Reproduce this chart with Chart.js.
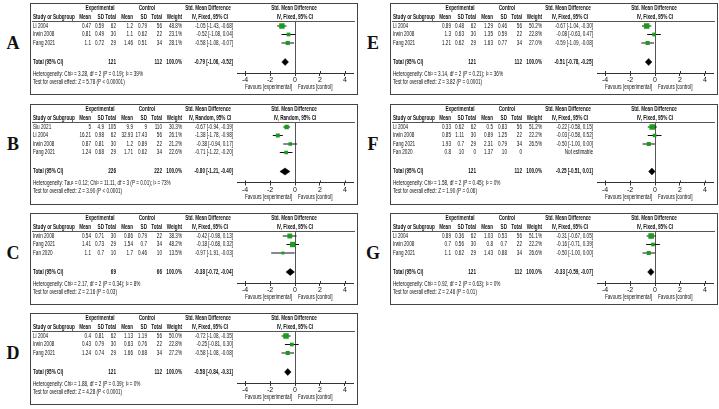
<!DOCTYPE html>
<html>
<head>
<meta charset="utf-8">
<script src="https://cdn.jsdelivr.net/npm/chart.js@4.4.1/dist/chart.umd.min.js"></script>
<style>
  body { margin: 0; background: #fff; width: 719px; height: 409px; position: relative; overflow: hidden; }
  canvas { position: absolute; }
  .lbl { position: absolute; font: bold 18px "Liberation Serif", "Times New Roman", serif; color: #111; transform: translate(-50%, -50%); }
</style>
</head>
<body>
<script>
// axis ticks for every panel
const xTicks = [-4, -2, 0, 2, 4];

// study, exp mean, exp SD, exp N, ctl mean, ctl SD, ctl N, weight %, SMD, lower, upper
const rowsA = [
  ["Li 2004", 0.47, 0.59, 62, 1.2, 0.79, 56, 48.8, -1.05, -1.43, -0.68],
  ["Irwin 2008", 0.81, 0.49, 30, 1.1, 0.62, 22, 23.1, -0.52, -1.08, 0.04],
  ["Fang 2021", 1.1, 0.72, 29, 1.46, 0.51, 34, 28.1, -0.58, -1.08, -0.07]
];
const rowsB = [
  ["Siu 2021", 5, 4.9, 105, 9.9, 9, 110, 30.3, -0.67, -0.94, -0.39],
  ["Li 2004", 16.21, 0.98, 62, 32.93, 17.43, 56, 26.1, -1.38, -1.78, -0.98],
  ["Irwin 2008", 0.87, 0.81, 30, 1.2, 0.89, 22, 21.2, -0.38, -0.94, 0.17],
  ["Fang 2021", 1.24, 0.68, 29, 1.71, 0.62, 34, 22.6, -0.71, -1.22, -0.20]
];
const rowsC = [
  ["Irwin 2008", 0.54, 0.71, 30, 0.86, 0.79, 22, 38.3, -0.42, -0.98, 0.13],
  ["Fang 2021", 1.41, 0.73, 29, 1.54, 0.7, 34, 48.2, -0.18, -0.68, 0.32],
  ["Fan 2020", 1.1, 0.7, 10, 1.7, 0.46, 10, 13.5, -0.97, -1.91, -0.03]
];
const rowsD = [
  ["Li 2004", 0.4, 0.81, 62, 1.13, 1.19, 56, 50.0, -0.72, -1.08, -0.35],
  ["Irwin 2008", 0.43, 0.79, 30, 0.63, 0.76, 22, 22.8, -0.25, -0.81, 0.30],
  ["Fang 2021", 1.24, 0.74, 29, 1.66, 0.68, 34, 27.2, -0.58, -1.08, -0.08]
];
const rowsE = [
  ["Li 2004", 0.89, 0.48, 62, 1.29, 0.46, 56, 50.2, -0.67, -1.04, -0.30],
  ["Irwin 2008", 1.3, 0.63, 30, 1.35, 0.59, 22, 22.8, -0.08, -0.63, 0.47],
  ["Fang 2021", 1.21, 0.62, 29, 1.63, 0.77, 34, 27.0, -0.59, -1.09, -0.08]
];
const rowsF = [
  ["Li 2004", 0.33, 0.62, 62, 0.5, 0.83, 56, 51.2, -0.22, -0.58, 0.15],
  ["Irwin 2008", 0.85, 1.11, 30, 0.89, 1.25, 22, 22.2, -0.03, -0.58, 0.52],
  ["Fang 2021", 1.93, 0.7, 29, 2.31, 0.79, 34, 26.5, -0.50, -1.00, 0.00],
  ["Fan 2020", 0.8, 10, 0, 1.37, 10, 0, null, null, null, null]
];
const rowsG = [
  ["Li 2004", 0.89, 0.36, 62, 1.03, 0.53, 56, 51.1, -0.31, -0.67, 0.05],
  ["Irwin 2008", 0.7, 0.56, 30, 0.8, 0.7, 22, 22.2, -0.16, -0.71, 0.39],
  ["Fang 2021", 1.1, 0.62, 29, 1.43, 0.88, 34, 26.6, -0.50, -1.00, 0.00]
];

// exp N, ctl N, SMD, lower, upper
const totalA = [121, 112, -0.79, -1.06, -0.52];
const totalB = [226, 222, -0.80, -1.21, -0.40];
const totalC = [69, 66, -0.38, -0.72, -0.04];
const totalD = [121, 112, -0.58, -0.84, -0.31];
const totalE = [121, 112, -0.51, -0.78, -0.25];
const totalF = [121, 112, -0.25, -0.51, 0.01];
const totalG = [121, 112, -0.33, -0.59, -0.07];

const hetA = "Heterogeneity: Chi² = 3.28, df = 2 (P = 0.19); I² = 39%";
const hetB = "Heterogeneity: Tau² = 0.12; Chi² = 11.11, df = 3 (P = 0.01); I² = 73%";
const hetC = "Heterogeneity: Chi² = 2.17, df = 2 (P = 0.34); I² = 8%";
const hetD = "Heterogeneity: Chi² = 1.88, df = 2 (P = 0.39); I² = 0%";
const hetE = "Heterogeneity: Chi² = 3.14, df = 2 (P = 0.21); I² = 36%";
const hetF = "Heterogeneity: Chi² = 1.58, df = 2 (P = 0.45); I² = 0%";
const hetG = "Heterogeneity: Chi² = 0.92, df = 2 (P = 0.63); I² = 0%";

const testA = "Test for overall effect: Z = 5.78 (P < 0.00001)";
const testB = "Test for overall effect: Z = 3.90 (P < 0.0001)";
const testC = "Test for overall effect: Z = 2.16 (P = 0.03)";
const testD = "Test for overall effect: Z = 4.28 (P < 0.0001)";
const testE = "Test for overall effect: Z = 3.82 (P = 0.0001)";
const testF = "Test for overall effect: Z = 1.90 (P = 0.06)";
const testG = "Test for overall effect: Z = 2.46 (P = 0.01)";

const panels = [
  { id: "A", rows: rowsA, total: totalA, het: hetA, test: testA, method: "IV, Fixed, 95% CI", left: 30, top: 3 },
  { id: "B", rows: rowsB, total: totalB, het: hetB, test: testB, method: "IV, Random, 95% CI", left: 30, top: 104 },
  { id: "C", rows: rowsC, total: totalC, het: hetC, test: testC, method: "IV, Fixed, 95% CI", left: 30, top: 213 },
  { id: "D", rows: rowsD, total: totalD, het: hetD, test: testD, method: "IV, Fixed, 95% CI", left: 30, top: 313 },
  { id: "E", rows: rowsE, total: totalE, het: hetE, test: testE, method: "IV, Fixed, 95% CI", left: 390, top: 3 },
  { id: "F", rows: rowsF, total: totalF, het: hetF, test: testF, method: "IV, Fixed, 95% CI", left: 390, top: 104 },
  { id: "G", rows: rowsG, total: totalG, het: hetG, test: testG, method: "IV, Fixed, 95% CI", left: 390, top: 213 }
];

// layout (box-relative pixels)
const BOX_W = 328, HEAD_Y = 18, ROW_H = 8.5, FIRST = 5;
const PLOT_L = 207, PLOT_R = 323;
const FONT = '"Liberation Sans Narrow", "Arial Narrow", "Liberation Sans", Arial, sans-serif';
const INK = "#111";
// right edges of the numeric columns
const COLS = [61, 74, 86, 103, 117, 132, 152];
const CI_X = 203;

// squeeze text horizontally like the original export
const probe = document.createElement("canvas").getContext("2d");
probe.font = "7px " + FONT;
const SX = 110 / probe.measureText(hetA).width;

function put(ctx, s, x, y, align, bold) {
  ctx.save();
  ctx.font = (bold ? "bold " : "") + "7px " + FONT;
  ctx.fillStyle = INK;
  ctx.textAlign = align || "left";
  ctx.textBaseline = "middle";
  ctx.translate(x, y);
  ctx.scale(SX, 1);
  ctx.fillText(s, 0, 0);
  ctx.restore();
}

function ciText(m, lo, hi) {
  return m.toFixed(2) + " [" + lo.toFixed(2) + ", " + hi.toFixed(2) + "]";
}

function makePanel(p) {
  const n = p.rows.length;
  const yMin = -FIRST / ROW_H;
  const totalRow = n + 19 / ROW_H - 1;
  const axisRow = totalRow + 11 / ROW_H;
  const areaH = (axisRow - yMin) * ROW_H;
  const H = Math.round(HEAD_Y + areaH + 22);

  const canvas = document.createElement("canvas");
  canvas.width = BOX_W;
  canvas.height = H;
  canvas.style.left = p.left + "px";
  canvas.style.top = p.top + "px";
  document.body.appendChild(canvas);

  const lbl = document.createElement("div");
  lbl.className = "lbl";
  lbl.textContent = p.id;
  lbl.style.left = (p.left - 17) + "px";
  lbl.style.top = (p.top + 40) + "px";
  document.body.appendChild(lbl);

  const datasets = [];
  const squares = [];
  const sizes = [];
  p.rows.forEach((r, i) => {
    if (r[8] == null) return;
    squares.push({ x: r[8], y: i });
    sizes.push(0.78 * Math.sqrt(r[7]) / Math.SQRT2);
    datasets.push({
      type: "line", showLine: true, order: 2,
      data: [{ x: r[9], y: i }, { x: r[10], y: i }],
      borderColor: INK, borderWidth: 1, pointRadius: 0
    });
  });
  datasets.push({
    type: "scatter", order: 1,
    data: squares, pointStyle: "rect", pointRadius: sizes, pointHoverRadius: sizes,
    backgroundColor: "#1c9c1c", borderColor: "#1c9c1c", borderWidth: 0
  });
  const t = p.total;
  const d = 3.5 / ROW_H;
  datasets.push({
    type: "line", showLine: true, order: 0,
    data: [
      { x: t[3], y: totalRow }, { x: t[2], y: totalRow - d },
      { x: t[4], y: totalRow }, { x: t[2], y: totalRow + d }, { x: t[3], y: totalRow }
    ],
    borderColor: "#000", borderWidth: 0.5, backgroundColor: "#000", fill: "shape", pointRadius: 0
  });

  const table = {
    id: "table" + p.id,
    beforeDraw(chart) {
      const ctx = chart.ctx;
      ctx.save();
      ctx.strokeStyle = "#444";
      ctx.lineWidth = 1;
      ctx.strokeRect(0.5, 0.5, BOX_W - 1, H - 1);
      ctx.beginPath();
      ctx.moveTo(2, HEAD_Y + 0.5);
      ctx.lineTo(BOX_W - 3, HEAD_Y + 0.5);
      ctx.strokeStyle = "#555";
      ctx.stroke();
      ctx.restore();
    },
    afterDraw(chart) {
      const ctx = chart.ctx;
      const ys = chart.scales.y, xs = chart.scales.x;
      const zero = xs.getPixelForValue(0);
      const axisY = chart.chartArea.bottom;

      put(ctx, "Experimental", 70, 5, "center", true);
      put(ctx, "Control", 117, 5, "center", true);
      put(ctx, "Std. Mean Difference", 178, 5, "center", true);
      put(ctx, "Std. Mean Difference", zero - 1, 5, "center", true);
      put(ctx, "Study or Subgroup", 3, 14, "left", true);
      ["Mean", "SD", "Total", "Mean", "SD", "Total", "Weight"].forEach((h, k) => put(ctx, h, COLS[k], 14, "right", true));
      put(ctx, p.method, 180, 14, "center", true);
      put(ctx, p.method, zero, 14, "center", true);

      p.rows.forEach((r, i) => {
        const y = ys.getPixelForValue(i);
        put(ctx, r[0], 3, y);
        for (let k = 1; k <= 6; k++) put(ctx, String(r[k]), COLS[k - 1], y, "right");
        if (r[8] == null) {
          put(ctx, "Not estimable", CI_X, y, "right");
        } else {
          put(ctx, r[7].toFixed(1) + "%", COLS[6], y, "right");
          put(ctx, ciText(r[8], r[9], r[10]), CI_X, y, "right");
        }
      });

      const ty = ys.getPixelForValue(totalRow);
      put(ctx, "Total (95% CI)", 3, ty, "left", true);
      put(ctx, String(t[0]), COLS[2], ty, "right", true);
      put(ctx, String(t[1]), COLS[5], ty, "right", true);
      put(ctx, "100.0%", COLS[6], ty, "right", true);
      put(ctx, ciText(t[2], t[3], t[4]), CI_X, ty, "right", true);
      put(ctx, p.het, 3, axisY + 1);
      put(ctx, p.test, 3, axisY + 9);

      put(ctx, "Favours [experimental]", zero - 3, axisY + 14.5, "right");
      put(ctx, "Favours [control]", zero + 3, axisY + 14.5, "left");

      // upper half of the tick marks
      ctx.save();
      ctx.strokeStyle = "#333";
      ctx.lineWidth = 1;
      xTicks.forEach(v => {
        const px = Math.round(xs.getPixelForValue(v)) + 0.5;
        ctx.beginPath();
        ctx.moveTo(px, axisY - 2);
        ctx.lineTo(px, axisY);
        ctx.stroke();
      });
      ctx.restore();
    }
  };

  new Chart(canvas, {
    type: "scatter",
    data: { datasets },
    options: {
      responsive: false,
      animation: false,
      devicePixelRatio: 1,
      events: [],
      layout: { padding: { left: PLOT_L, right: BOX_W - PLOT_R, top: HEAD_Y, bottom: H - HEAD_Y - areaH - 10 } },
      plugins: { legend: { display: false }, tooltip: { enabled: false } },
      scales: {
        x: {
          type: "linear", min: -4.65, max: 4.65,
          afterBuildTicks: s => { s.ticks = xTicks.map(v => ({ value: v })); },
          afterFit: s => { s.height = 10; },
          grid: {
            drawOnChartArea: true,
            color: c => (c.tick && c.tick.value === 0 ? "#555" : "rgba(0,0,0,0)"),
            tickColor: "#333", tickLength: 3, lineWidth: 1
          },
          border: { display: true, color: "#333", width: 1 },
          ticks: { font: { size: 7, family: FONT }, color: INK, padding: 0, maxRotation: 0, autoSkip: false }
        },
        y: { type: "linear", display: false, reverse: true, min: yMin, max: axisRow }
      }
    },
    plugins: [table]
  });
}

panels.forEach(makePanel);
</script>
</body>
</html>
